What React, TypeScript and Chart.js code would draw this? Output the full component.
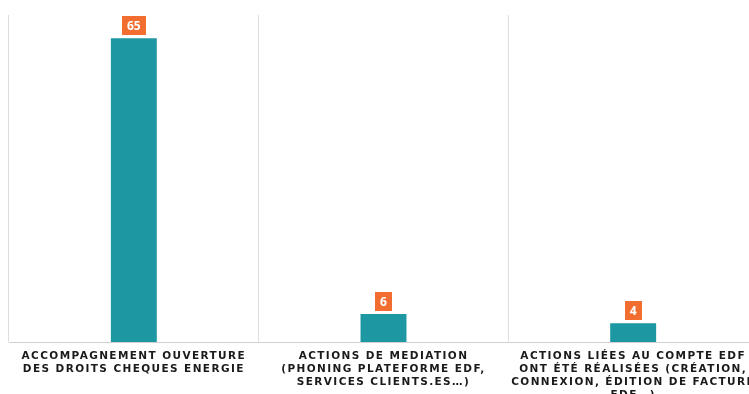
import React, { useEffect, useRef } from "react";
import { Chart, registerables } from "chart.js";

Chart.register(...registerables);

const categories: string[][] = [
  ["ACCOMPAGNEMENT OUVERTURE", "DES DROITS CHEQUES ENERGIE"],
  ["ACTIONS DE MEDIATION", "(PHONING PLATEFORME EDF,", "SERVICES CLIENTS.ES…)"],
  ["ACTIONS LIÉES AU COMPTE EDF", "ONT ÉTÉ RÉALISÉES (CRÉATION,", "CONNEXION, ÉDITION DE FACTURE", "EDF…)"],
];
const values: number[] = [65, 6, 4];
const yMax = 70;

const BAR_COLOR = "#1D97A2";
const LABEL_BG = "#F26D30";
const FONT = "'Open Sans', 'DejaVu Sans', sans-serif";
const TICK_FONT = "'DejaVu Sans', sans-serif";

const letterSpacingPlugin = {
  id: "letterSpacing",
  beforeDraw(chart: any) {
    (chart.ctx as any).letterSpacing = "1.4px";
  },
  afterDraw(chart: any) {
    (chart.ctx as any).letterSpacing = "0px";
  },
};

const boxLabelPlugin = {
  id: "boxLabels",
  afterDatasetsDraw(chart: any) {
    const ctx = chart.ctx as CanvasRenderingContext2D;
    const meta = chart.getDatasetMeta(0);
    ctx.save();
    (ctx as any).letterSpacing = "0px";
    ctx.font = `bold 12px ${FONT}`;
    ctx.textAlign = "center";
    ctx.textBaseline = "middle";
    meta.data.forEach((el: any, i: number) => {
      const text = String(chart.data.datasets[0].data[i]);
      const w = ctx.measureText(text).width + 10;
      const h = 19;
      const bottom = el.y - 3;
      ctx.fillStyle = LABEL_BG;
      ctx.fillRect(Math.round(el.x - w / 2), Math.round(bottom - h), Math.round(w), h);
      ctx.fillStyle = "#ffffff";
      ctx.fillText(text, el.x, bottom - h / 2 + 1);
    });
    ctx.restore();
  },
};

export default function App() {
  const canvasRef = useRef<HTMLCanvasElement | null>(null);

  useEffect(() => {
    if (!canvasRef.current) return;
    const chart = new Chart(canvasRef.current, {
      type: "bar",
      data: {
        labels: categories,
        datasets: [
          {
            data: values,
            backgroundColor: BAR_COLOR,
            barPercentage: 0.184,
            categoryPercentage: 1,
          },
        ],
      },
      options: {
        animation: false,
        responsive: true,
        maintainAspectRatio: false,
        layout: { padding: { left: 1, right: 0, top: 7, bottom: 0 } },
        plugins: {
          legend: { display: false },
          tooltip: { enabled: false },
        },
        scales: {
          x: {
            grid: {
              display: true,
              color: "#dedede",
              drawTicks: false,
              offset: true,
            },
            border: { display: true, color: "#d0d0d0" },
            ticks: {
              maxRotation: 0,
              minRotation: 0,
              autoSkip: false,
              padding: 8,
              color: "#1a1a1a",
              font: { family: TICK_FONT, size: 10.5, weight: "bold", lineHeight: 13 / 10.5 },
            },
          },
          y: {
            display: false,
            min: 0,
            max: yMax,
          },
        },
      },
      plugins: [letterSpacingPlugin, boxLabelPlugin],
    });
    return () => chart.destroy();
  }, []);

  return (
    <div
      style={{
        position: "fixed",
        left: 8,
        top: 8,
        width: 741,
        height: 386,
        overflow: "hidden",
      }}
    >
      <div style={{ position: "relative", width: 750, height: 402 }}>
        <canvas ref={canvasRef} />
      </div>
    </div>
  );
}
